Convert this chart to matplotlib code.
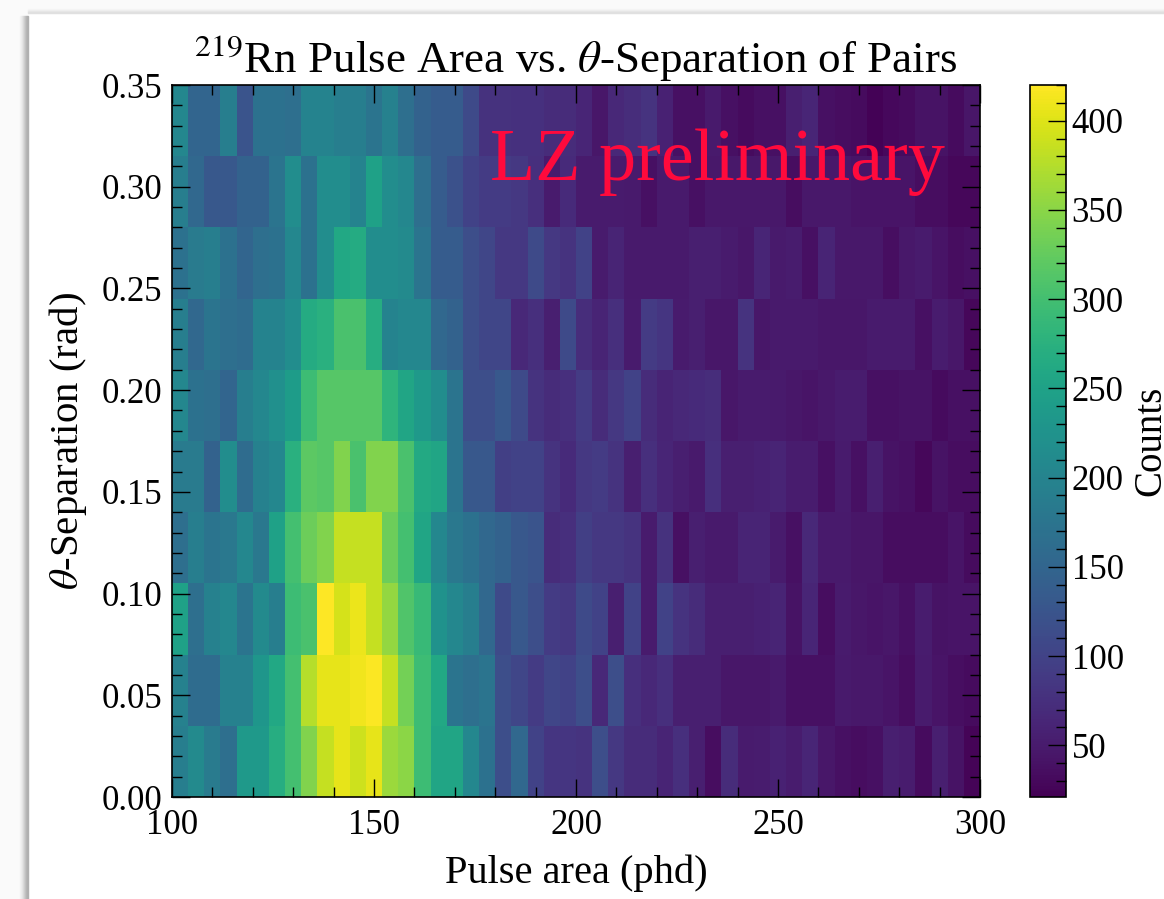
import numpy as np
import matplotlib
matplotlib.use('Agg')
import matplotlib.pyplot as plt
from matplotlib.patches import Rectangle
from matplotlib.ticker import MultipleLocator

plt.rcParams['font.family'] = ['Liberation Serif', 'DejaVu Serif']
plt.rcParams['mathtext.fontset'] = 'stix'

# bin edges of the histogram
x_edges = [100 + 4 * i for i in range(51)]
y_edges = [0.035 * i for i in range(11)]

# counts per theta bin, row 0 is the bottom one, 50 pulse area bins in each
row0 = [190, 210, 185, 165, 235, 235, 270, 300, 345, 385, 405, 390, 405, 360, 350, 295, 255, 255, 205, 170, 115, 155, 100, 82, 82,
        80, 115, 85, 70, 70, 60, 75, 55, 35, 70, 50, 52, 58, 52, 62, 45, 38, 35, 37, 55, 52, 33, 55, 40, 25]
row1 = [195, 160, 160, 195, 195, 230, 260, 300, 375, 405, 405, 412, 418, 385, 335, 295, 260, 175, 165, 175, 115, 105, 90, 105, 100,
        115, 65, 115, 75, 65, 75, 55, 55, 55, 45, 45, 45, 48, 38, 38, 38, 48, 47, 46, 42, 35, 50, 42, 36, 33]
row2 = [250, 165, 195, 205, 175, 210, 190, 295, 305, 420, 395, 408, 385, 355, 310, 290, 225, 205, 190, 155, 110, 130, 115, 90, 85,
        110, 100, 55, 100, 50, 100, 80, 70, 55, 55, 55, 58, 60, 40, 62, 35, 50, 45, 42, 45, 38, 52, 40, 42, 42]
row3 = [165, 190, 175, 180, 205, 180, 250, 300, 330, 345, 385, 385, 385, 330, 300, 255, 205, 180, 170, 155, 145, 130, 125, 70, 75,
        95, 85, 85, 80, 50, 78, 38, 55, 48, 48, 60, 60, 50, 38, 65, 48, 48, 43, 43, 35, 35, 35, 35, 42, 33]
row4 = [185, 185, 145, 215, 160, 195, 205, 275, 320, 315, 345, 305, 345, 345, 305, 262, 255, 175, 130, 130, 95, 100, 100, 80, 68,
        85, 90, 80, 55, 75, 62, 55, 48, 75, 55, 55, 58, 60, 52, 52, 38, 50, 38, 55, 40, 38, 28, 40, 35, 35]
row5 = [205, 170, 165, 150, 190, 205, 220, 240, 295, 315, 315, 315, 315, 280, 255, 235, 215, 175, 115, 115, 130, 110, 80, 70, 75,
        90, 70, 85, 100, 70, 60, 65, 68, 72, 45, 50, 50, 48, 45, 42, 46, 52, 52, 38, 38, 40, 40, 32, 38, 38]
row6 = [190, 155, 175, 165, 160, 200, 200, 215, 265, 275, 305, 305, 270, 200, 205, 205, 155, 145, 115, 105, 105, 65, 75, 55, 110,
        72, 60, 75, 50, 90, 82, 50, 55, 45, 45, 80, 45, 48, 48, 48, 45, 45, 45, 50, 50, 50, 38, 52, 45, 28]
row7 = [170, 185, 190, 170, 150, 165, 170, 205, 170, 215, 260, 265, 215, 215, 210, 175, 135, 135, 115, 105, 85, 85, 110, 85, 80,
        100, 50, 60, 48, 48, 48, 48, 55, 55, 50, 45, 62, 48, 52, 38, 60, 46, 46, 46, 36, 46, 50, 42, 34, 38]
row8 = [190, 155, 130, 130, 145, 145, 175, 215, 170, 215, 215, 200, 250, 215, 205, 165, 135, 120, 100, 90, 90, 85, 75, 50, 68,
        50, 50, 50, 48, 38, 48, 48, 38, 46, 46, 46, 46, 46, 34, 46, 46, 46, 42, 42, 42, 42, 35, 35, 28, 28]
row9 = [205, 150, 150, 190, 125, 170, 170, 165, 200, 200, 190, 190, 175, 195, 165, 145, 135, 135, 110, 78, 78, 76, 76, 70, 70,
        62, 45, 65, 72, 80, 58, 38, 38, 48, 38, 32, 38, 38, 55, 62, 38, 35, 32, 24, 30, 32, 40, 40, 32, 44]
counts = np.array([row0, row1, row2, row3, row4, row5, row6, row7, row8, row9])

W, H = 1164, 899
fig = plt.figure(figsize=(W / 100, H / 100), dpi=100, facecolor='white')

# page behind the white card, with the soft shadow along its edges
fig.patches.append(Rectangle((0, 0), 28 / W, 1, transform=fig.transFigure, color='#fafafa', zorder=-2))
fig.patches.append(Rectangle((0, 1 - 13 / H), 1, 13 / H, transform=fig.transFigure, color='#fafafa', zorder=-2))
for i, c in enumerate(['#f4f4f4', '#eeeeee', '#e6e6e6', '#dcdcdc', '#d0d0d0', '#c4c4c4', '#b8b8b8', '#b0b0b0']):
    fig.patches.append(Rectangle(((20 + i) / W, 0), 1 / W, 1 - 16 / H, transform=fig.transFigure, color=c, zorder=-1))
for i, c in enumerate(['#f6f6f6', '#f0f0f0', '#e8e8e8', '#e0e0e0']):
    fig.patches.append(Rectangle((28 / W, 1 - (10 + i) / H), 1, 1 / H, transform=fig.transFigure, color=c, zorder=-1))

ax = fig.add_axes([172 / W, 1 - 797 / H, 808 / W, 712 / H])
cax = fig.add_axes([1030 / W, 1 - 797 / H, 36 / W, 712 / H])

mesh = ax.pcolormesh(x_edges, y_edges, counts, cmap='viridis', vmin=21, vmax=420)
cb = fig.colorbar(mesh, cax=cax)

ax.set_xlim(100, 300)
ax.set_ylim(0, 0.35)
ax.xaxis.set_major_locator(MultipleLocator(50))
ax.xaxis.set_minor_locator(MultipleLocator(10))
ax.yaxis.set_major_locator(MultipleLocator(0.05))
ax.yaxis.set_minor_locator(MultipleLocator(0.01))
ax.yaxis.set_major_formatter('{x:.2f}')
ax.tick_params(which='both', direction='in', top=True, right=True, labelsize=25, width=1)
ax.tick_params(axis='x', pad=9)
ax.tick_params(axis='y', pad=7)
ax.tick_params(which='major', length=13)
ax.tick_params(which='minor', length=7.2)

ax.set_title(r'$^{219}$Rn Pulse Area vs. $\theta$-Separation of Pairs', fontsize=32.4, pad=8.5)
ax.set_xlabel('Pulse area (phd)', fontsize=29.2, labelpad=8.5)
ax.set_ylabel(r'$\theta$-Separation (rad)', fontsize=29.4, labelpad=9)
ax.text(0.675, 0.891, 'LZ preliminary', transform=ax.transAxes, color='#ff0a3c', fontsize=53.4,
        ha='center', va='center')

cb.set_ticks([50, 100, 150, 200, 250, 300, 350, 400])
cb.ax.yaxis.set_minor_locator(MultipleLocator(10))
cb.ax.tick_params(which='both', direction='in', labelsize=25, width=1, pad=4)
cb.ax.tick_params(which='major', length=13)
cb.ax.tick_params(which='minor', length=7.2)
cb.set_label('Counts', fontsize=28, labelpad=6)

for s in ax.spines.values():
    s.set_linewidth(1.2)
cb.outline.set_linewidth(1.2)

fig.savefig('out.png', dpi=100)
